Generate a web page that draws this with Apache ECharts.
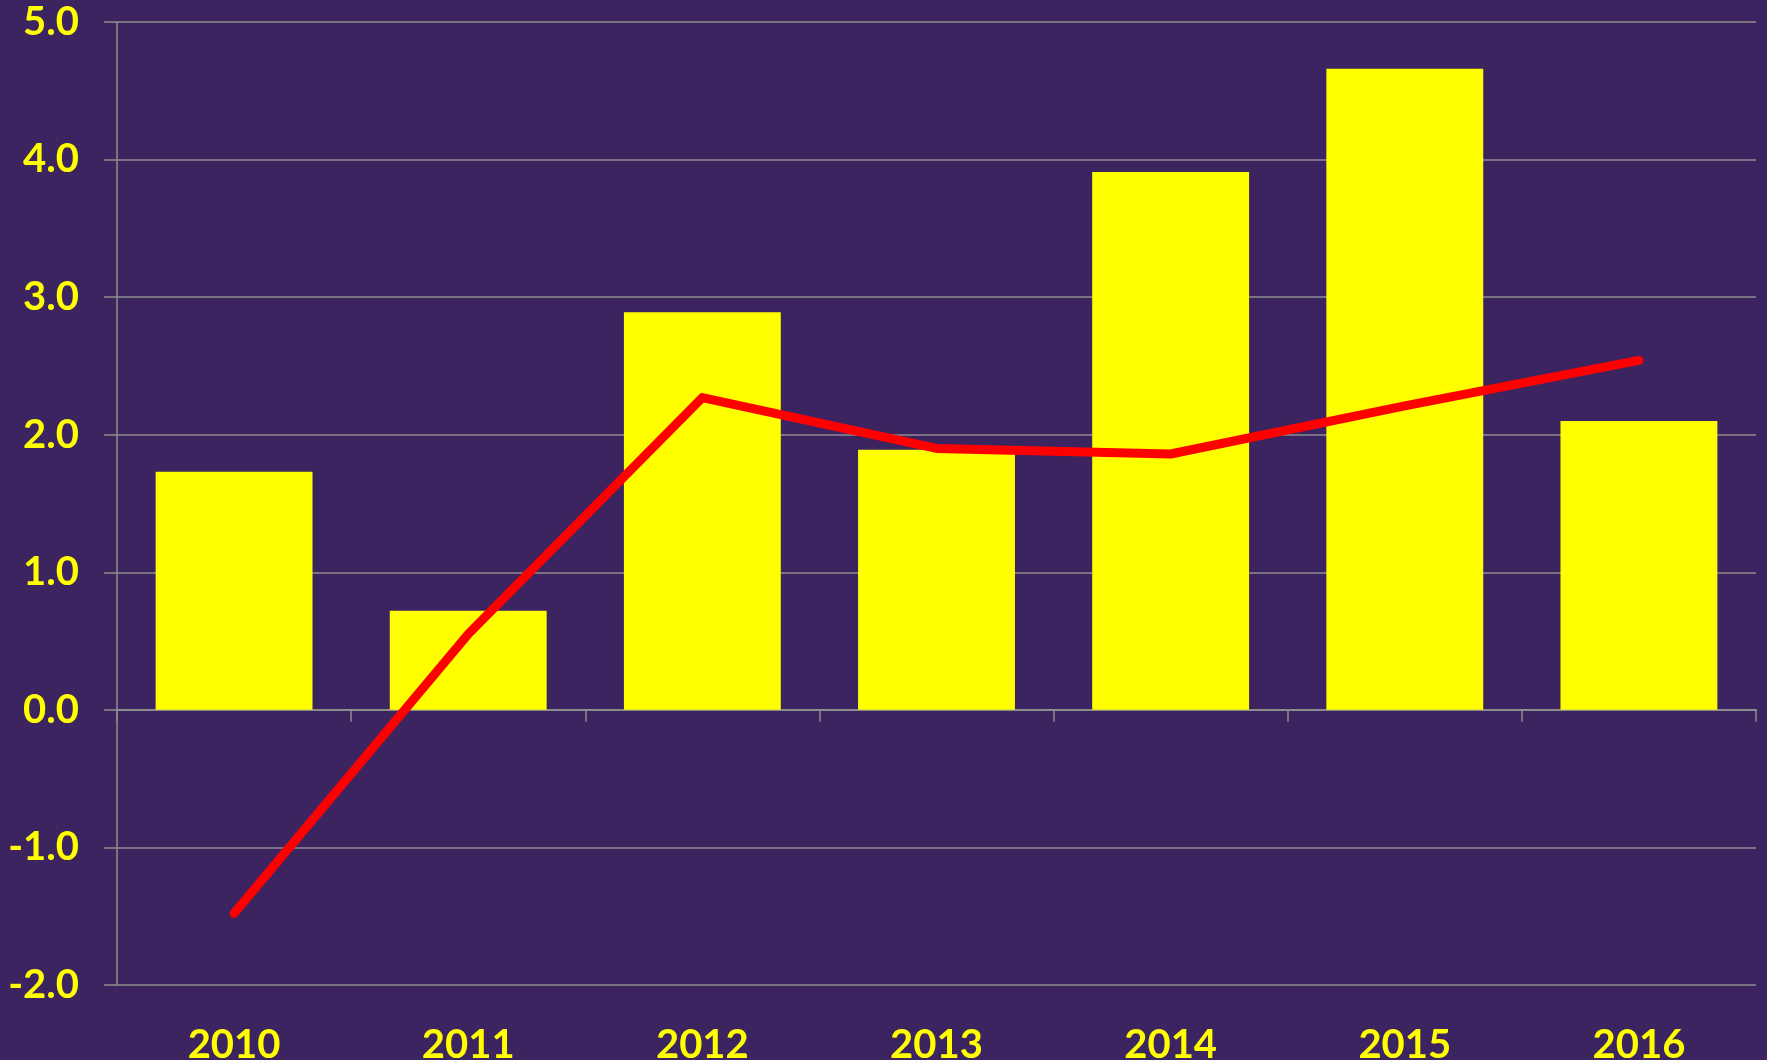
<!DOCTYPE html>
<html>
<head>
<meta charset="utf-8">
<script src="https://cdn.jsdelivr.net/npm/echarts@6/dist/echarts.min.js"></script>
<style>
  html, body { margin: 0; padding: 0; background: #3c2460; }
  #main { width: 1767px; height: 1060px; }
</style>
</head>
<body>
<div id="main"></div>
<script>
// years on the x axis
const years = ['2010', '2011', '2012', '2013', '2014', '2015', '2016']
// yellow bars
const barValues = [1.73, 0.72, 2.89, 1.89, 3.91, 4.66, 2.10]
// red line
const lineValues = [-1.48, 0.55, 2.27, 1.90, 1.86, 2.21, 2.54]

const labelFont = {
  color: '#ffff00',
  fontFamily: 'Lato',
  fontWeight: 'bold',
  fontSize: 40
}

const chart = echarts.init(document.getElementById('main'), null, { renderer: 'canvas' })

const option = {
  backgroundColor: '#3c2460',
  animation: false,
  grid: { left: 117, right: 11, top: 22, bottom: 75, outerBoundsMode: 'none' },
  xAxis: [
    {
      // axis line and ticks sitting on zero
      type: 'category',
      data: years,
      axisLine: { onZero: true, lineStyle: { color: '#8c8c8c', width: 2 } },
      axisTick: { show: true, length: 12, lineStyle: { color: '#8c8c8c', width: 1.5 } },
      axisLabel: { show: false },
      splitLine: { show: false }
    },
    {
      // labels down at the bottom
      type: 'category',
      data: years,
      position: 'bottom',
      axisLine: { show: false, onZero: false },
      axisTick: { show: false },
      axisLabel: Object.assign({ margin: 40 }, labelFont)
    }
  ],
  yAxis: {
    type: 'value',
    min: -2,
    max: 5,
    interval: 1,
    axisLine: { show: true, lineStyle: { color: '#8c8c8c', width: 1.5 } },
    axisTick: { show: true, length: 13, lineStyle: { color: '#8c8c8c', width: 1.5 } },
    axisLabel: Object.assign({ margin: 38, formatter: v => v.toFixed(1) }, labelFont),
    splitLine: { lineStyle: { color: '#8c8c8c', width: 1.5 } }
  },
  series: [
    {
      type: 'bar',
      data: barValues,
      xAxisIndex: 0,
      barCategoryGap: '33%',
      itemStyle: { color: '#ffff00' }
    },
    {
      type: 'line',
      data: lineValues,
      xAxisIndex: 0,
      showSymbol: false,
      symbol: 'none',
      lineStyle: { color: '#ff0000', width: 9, cap: 'round', join: 'round' }
    }
  ]
}

chart.setOption(option)
</script>
</body>
</html>
